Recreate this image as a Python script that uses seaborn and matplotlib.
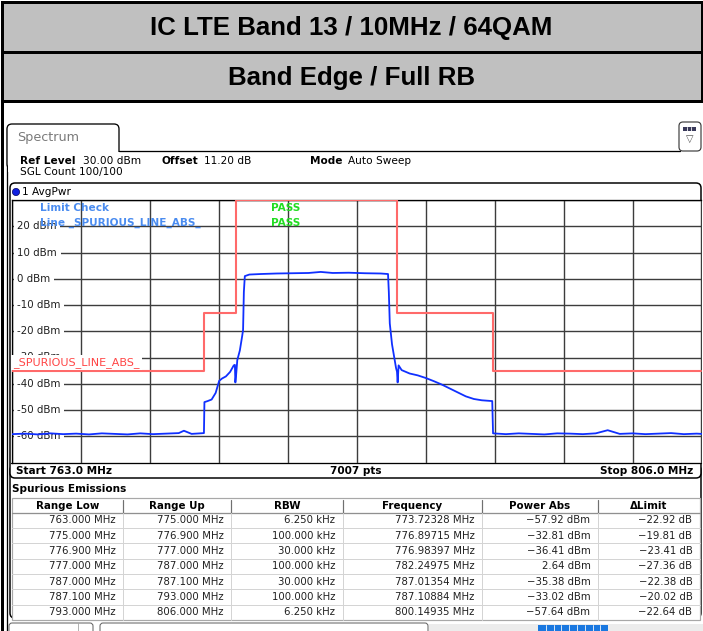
import matplotlib
matplotlib.use("Agg")
import matplotlib.pyplot as plt
import seaborn as sns
import pandas as pd
from matplotlib.patches import Rectangle, FancyBboxPatch, Circle

# ---------------- data ----------------
title_1 = "IC LTE Band 13 / 10MHz / 64QAM"
title_2 = "Band Edge / Full RB"

start_mhz = 763.0
stop_mhz = 806.0
ref_level_dbm = 30.0
bottom_dbm = -70.0
y_labels_dbm = [20, 10, 0, -10, -20, -30, -40, -50, -60]

trace_mhz = [763.0, 763.8, 764.6, 765.4, 766.2, 767.0, 767.8, 768.6, 769.4, 770.2,
             771.0, 771.8, 772.6, 773.4, 773.72, 774.2, 774.97,
             775.0, 775.2, 775.45, 775.7, 775.92, 776.1, 776.34, 776.6, 776.83, 776.9,
             776.93, 776.98, 777.05, 777.21, 777.35, 777.41, 777.46, 777.52, 777.8,
             778.5, 779.5, 780.5, 781.5, 782.25, 783.0, 784.0, 785.0, 786.0, 786.45,
             786.5, 786.56, 786.7, 786.87, 786.95, 787.01, 787.05, 787.11, 787.3, 787.8,
             788.3, 788.8, 789.3, 789.8, 790.3, 790.8, 791.3, 791.8, 792.3, 792.95,
             793.0, 793.8, 794.6, 795.4, 796.2, 797.0, 797.8, 798.6, 799.4, 800.15,
             800.9, 801.7, 802.5, 803.3, 804.1, 804.9, 805.7, 806.0]
trace_dbm = [-59.2, -59.0, -59.3, -58.9, -59.2, -59.0, -59.3, -58.9, -59.1, -59.3,
             -58.9, -59.2, -59.0, -58.8, -57.9, -59.1, -58.8,
             -47.0, -46.6, -46.0, -43.5, -38.9, -38.0, -37.2, -35.5, -33.0, -32.8,
             -39.5, -36.4, -31.0, -27.3, -22.0, -19.6, -5.0, 1.0, 1.6,
             1.8, 2.0, 2.1, 2.2, 2.6, 2.2, 2.3, 2.1, 2.0, 1.8,
             -5.0, -17.0, -25.0, -31.1, -34.0, -35.4, -39.5, -33.0, -34.8, -36.1,
             -36.8, -37.8, -39.0, -40.3, -41.8, -43.3, -44.8, -45.8, -46.3, -46.6,
             -58.9, -59.2, -58.9, -59.1, -59.3, -58.9, -59.0, -59.2, -58.9, -57.7,
             -59.1, -58.9, -59.2, -59.0, -58.8, -59.2, -59.0, -59.1]

# spurious emission table
range_low_mhz = [763.0, 775.0, 776.9, 777.0, 787.0, 787.1, 793.0]
range_up_mhz = [775.0, 776.9, 777.0, 787.0, 787.1, 793.0, 806.0]
rbw_khz = [6.25, 100.0, 30.0, 100.0, 30.0, 100.0, 6.25]
peak_freq_mhz = [773.72328, 776.89715, 776.98397, 782.24975, 787.01354, 787.10884, 800.14935]
power_abs_dbm = [-57.92, -32.81, -36.41, 2.64, -35.38, -33.02, -57.64]
delta_limit_db = [-22.92, -19.81, -23.41, -27.36, -22.38, -20.02, -22.64]
limit_dbm = [-35, -13, -13, 30, -13, -13, -35]
table_headers = ["Range Low", "Range Up", "RBW", "Frequency", "Power Abs", "\u0394Limit"]

# ---------------- figure ----------------
sns.set_theme(style="white")
plt.rcParams['font.family'] = ['DejaVu Sans']
plt.rcParams['text.color'] = 'black'
W, H = 703, 631
fig = plt.figure(figsize=(W / 100, H / 100), dpi=100)
bg = fig.add_axes([0, 0, 1, 1])
bg.set_xlim(0, W)
bg.set_ylim(H, 0)
bg.axis('off')
PX = 0.72  # points per pixel

# title rows
for (y0, y1, txt, yc) in [(1.5, 52, title_1, 27.5), (52, 100.5, title_2, 78.5)]:
    bg.add_patch(Rectangle((1.5, y0), W - 3, y1 - y0, facecolor='#c0c0c0',
                           edgecolor='black', lw=3 * PX, zorder=2))
    bg.text(W / 2, yc, txt, ha='center', va='center', fontsize=18.6, color='black',
            fontweight='bold', family='Liberation Sans', zorder=3)

# left borders (double line)
bg.plot([1.5, 1.5], [100, H], color='black', lw=3 * PX, zorder=2)
bg.plot([7, 7], [128, H], color='black', lw=1.3 * PX, zorder=2)

# Spectrum tab
tab = FancyBboxPatch((7, 124), 112, 45, boxstyle='round,pad=0,rounding_size=5',
                     fc='white', ec='black', lw=1.3 * PX, zorder=2)
bg.add_patch(tab)
bg.add_patch(Rectangle((7.8, 151.5), 112, 20, fc='white', ec='none', zorder=2.5))
bg.plot([119, 680], [151, 151], color='black', lw=1.3 * PX, zorder=3)
bg.text(17, 137, "Spectrum", fontsize=9.2, color='#7a7a7a', va='center', ha='left', zorder=3)

# icon top right
bg.add_patch(FancyBboxPatch((679, 122), 22, 29, boxstyle='round,pad=0,rounding_size=4',
                            fc='white', ec='#404040', lw=1.2 * PX, zorder=3))
bg.add_patch(Rectangle((683, 127), 13, 4, fc='#3a3a5a', ec='none', zorder=4))
for xx in [687, 691]:
    bg.plot([xx, xx], [127, 131], color='white', lw=0.8 * PX, zorder=5)
bg.text(689.5, 138.5, "\u25BD", fontsize=7, ha='center', va='center', color='#505050', zorder=4)

# header texts
hdr_fs = 7.6
bg.text(20.5, 161.5, "Ref Level", fontsize=hdr_fs, fontweight='bold', va='center', zorder=3)
bg.text(83, 161.5, "30.00 dBm", fontsize=hdr_fs, va='center', zorder=3)
bg.text(162, 161.5, "Offset", fontsize=hdr_fs, fontweight='bold', va='center', zorder=3)
bg.text(204, 161.5, "11.20 dB", fontsize=hdr_fs, va='center', zorder=3)
bg.text(310, 161.5, "Mode", fontsize=hdr_fs, fontweight='bold', va='center', zorder=3)
bg.text(348, 161.5, "Auto Sweep", fontsize=hdr_fs, va='center', zorder=3)
bg.text(20.5, 172.5, "SGL Count 100/100", fontsize=hdr_fs, va='center', zorder=3)

# table container (drawn under window frame)
bg.add_patch(FancyBboxPatch((10, 465), 691, 153, boxstyle='round,pad=0,rounding_size=5',
                            fc='white', ec='black', lw=1.5 * PX, zorder=1))
# window frame
bg.add_patch(FancyBboxPatch((10, 183), 691, 295, boxstyle='round,pad=0,rounding_size=5',
                            fc='white', ec='black', lw=1.5 * PX, zorder=2))
bg.add_patch(Circle((16, 192), 3.6, fc='#1020e0', ec='#000060', lw=0.5, zorder=3))
bg.text(22, 192, "1 AvgPwr", fontsize=hdr_fs, va='center', zorder=3)
bg.plot([11, 701], [462.5, 462.5], color='black', lw=1.3 * PX, zorder=3)
bg.text(16, 470.5, f"Start {start_mhz:.1f} MHz", fontsize=hdr_fs, fontweight='bold',
        va='center', zorder=3)
bg.text(356, 470.5, "7007 pts", fontsize=hdr_fs, fontweight='bold', va='center',
        ha='center', zorder=3)
bg.text(693, 470.5, f"Stop {stop_mhz:.1f} MHz", fontsize=hdr_fs, fontweight='bold',
        va='center', ha='right', zorder=3)

# ---------------- spectrum axes ----------------
ax_l, ax_r, ax_t, ax_b = 12, 701.5, 200, 462.5
ax = fig.add_axes([ax_l / W, 1 - ax_b / H, (ax_r - ax_l) / W, (ax_b - ax_t) / H])
ax.set_facecolor('white')
ax.set_xlim(start_mhz, stop_mhz)
ax.set_ylim(bottom_dbm, ref_level_dbm)
span = stop_mhz - start_mhz
ax.set_xticks([start_mhz + span * i / 10 for i in range(11)])
ax.set_yticks(list(range(-70, 31, 10)))
ax.tick_params(length=0, labelbottom=False, labelleft=False)
ax.grid(True, color='#3c3c3c', lw=1.0, zorder=0)
ax.set_axisbelow(True)
for side, sp in ax.spines.items():
    sp.set_color('black')
    sp.set_linewidth(1.3 * PX)
ax.spines['right'].set_visible(False)
ax.spines['bottom'].set_visible(False)

# y labels inside, white background
for v in y_labels_dbm:
    ax.text(0.0075, v, f"{v} dBm", transform=ax.get_yaxis_transform(), fontsize=7.4,
            va='center', ha='left', color='#202020', zorder=2,
            bbox=dict(boxstyle='square,pad=0.35', fc='white', ec='none'))

# limit line from table
lim_x = range_low_mhz + [range_up_mhz[-1]]
lim_y = limit_dbm + [limit_dbm[-1]]
sns.lineplot(x=lim_x, y=lim_y, ax=ax, estimator=None, sort=False, drawstyle='steps-post',
             color='#ff6a6a', lw=1.5, zorder=3)

# trace
sns.lineplot(x=trace_mhz, y=trace_dbm, ax=ax, estimator=None, sort=False,
             color='#1030ff', lw=1.3, zorder=4)
ax.set_xlabel("")
ax.set_ylabel("")

ax.text(0.041, 0.9707, "Limit Check", transform=ax.transAxes, fontsize=7.6,
        fontweight='bold', color='#4a8cf0', va='center', ha='left', zorder=5)
ax.text(0.041, 0.911, "Line _SPURIOUS_LINE_ABS_", transform=ax.transAxes, fontsize=7.6,
        fontweight='bold', color='#4a8cf0', va='center', ha='left', zorder=5)
for yy in [0.9707, 0.911]:
    ax.text(0.397, yy, "PASS", transform=ax.transAxes, fontsize=7.6, fontweight='bold',
            color='#22dd22', va='center', ha='center', zorder=5)
ax.text(0.002, -34.1, "_SPURIOUS_LINE_ABS_", transform=ax.get_yaxis_transform(),
        fontsize=8.0, color='#ff4545', va='bottom', ha='left', zorder=5,
        bbox=dict(boxstyle='square,pad=0.2', fc='white', ec='none'))

# ---------------- spurious emissions table ----------------
bg.text(12, 488.5, "Spurious Emissions", fontsize=hdr_fs, fontweight='bold', va='center', zorder=3)
col_edges = [12, 123, 231, 343, 482, 598, 700]
hdr_top, hdr_bot = 498, 512.5
row_h = 15.35
n_rows = len(range_low_mhz)
tbl_bot = hdr_bot + n_rows * row_h
bg.add_patch(Rectangle((col_edges[0], hdr_top), col_edges[-1] - col_edges[0], tbl_bot - hdr_top,
                       fc='white', ec='#a8a8a8', lw=1.2 * PX, zorder=3))
bg.plot([col_edges[0], col_edges[-1]], [hdr_bot, hdr_bot], color='#909090', lw=1.3 * PX, zorder=4)
for i in range(1, n_rows):
    yy = hdr_bot + i * row_h
    bg.plot([col_edges[0], col_edges[-1]], [yy, yy], color='#d4d4d4', lw=1.0 * PX, zorder=4)
for xx in col_edges[1:-1]:
    bg.plot([xx, xx], [hdr_top + 2, hdr_bot], color='#707070', lw=1.2 * PX, zorder=4)
    bg.plot([xx, xx], [hdr_bot, tbl_bot], color='#d4d4d4', lw=1.0 * PX, zorder=4)
for j, h in enumerate(table_headers):
    bg.text((col_edges[j] + col_edges[j + 1]) / 2, (hdr_top + hdr_bot) / 2 + 0.5, h,
            fontsize=7.4, fontweight='bold', ha='center', va='center', zorder=5)

rows = pd.DataFrame({
    "low": [f"{v:.3f} MHz" for v in range_low_mhz],
    "up": [f"{v:.3f} MHz" for v in range_up_mhz],
    "rbw": [f"{v:.3f} kHz" for v in rbw_khz],
    "freq": [f"{v:.5f} MHz" for v in peak_freq_mhz],
    "pwr": [f"{v:.2f} dBm" for v in power_abs_dbm],
    "dl": [f"{v:.2f} dB" for v in delta_limit_db],
})
for i, r in rows.iterrows():
    yc = hdr_bot + (i + 0.5) * row_h
    for j, val in enumerate(r.values):
        bg.text(col_edges[j + 1] - 7.5, yc, val.replace('-', '\u2212'), fontsize=7.3,
                ha='right', va='center', color='#202020', zorder=5)

# bottom strip (tabs / status)
bg.add_patch(FancyBboxPatch((9, 623), 84, 20, boxstyle='round,pad=0,rounding_size=3',
                            fc='white', ec='#606060', lw=1.0 * PX, zorder=2))
bg.plot([78, 78], [623, H], color='#a0a0a0', lw=0.8 * PX, zorder=3)
bg.add_patch(FancyBboxPatch((100, 623), 328, 20, boxstyle='round,pad=0,rounding_size=3',
                            fc='white', ec='#606060', lw=1.0 * PX, zorder=2))
bg.add_patch(Rectangle((429, 624), 274, 10, fc='#ececec', ec='none', zorder=1.5))
bg.add_patch(Rectangle((538, 625), 70, 8, fc='#1a78e0', ec='none', zorder=3))
for k in range(1, 9):
    xx = 538 + k * 7.8
    bg.plot([xx, xx], [625, H], color='white', lw=0.8 * PX, zorder=4)

fig.savefig("out.png", dpi=100)
